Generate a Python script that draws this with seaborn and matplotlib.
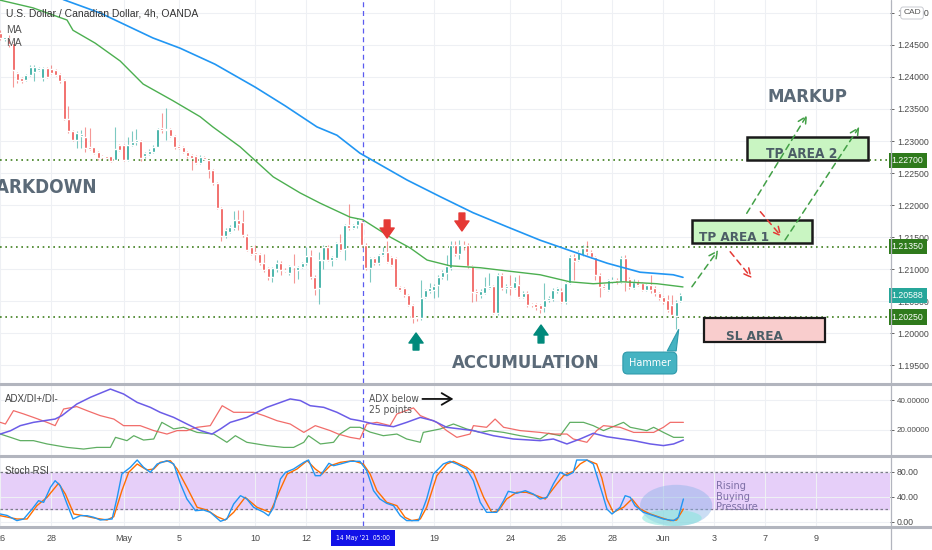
import os
import numpy as np
import matplotlib
matplotlib.use("Agg")
import matplotlib.pyplot as plt
from matplotlib import font_manager
from matplotlib.font_manager import FontProperties
from matplotlib.patches import Rectangle, Ellipse, Polygon
from matplotlib.lines import Line2D
import seaborn as sns

# ---- candles (USD/CAD 4h), one entry per bar ----
opens = [1.2469, 1.2459, 1.2461, 1.2453, 1.2406, 1.2398, 1.2395, 1.2403, 1.2408, 1.2411,
         1.2398, 1.2414, 1.2412, 1.2411, 1.2404, 1.2395, 1.2335, 1.2315, 1.2302, 1.2308,
         1.2307, 1.2290, 1.2290, 1.2283, 1.2277, 1.2276, 1.2276, 1.2271, 1.2294, 1.2294,
         1.2270, 1.2294, 1.2299, 1.2300, 1.2276, 1.2280, 1.2283, 1.2291, 1.2320, 1.2317,
         1.2319, 1.2308, 1.2292, 1.2290, 1.2283, 1.2278, 1.2276, 1.2266, 1.2275, 1.2270,
         1.2255, 1.2234, 1.2195, 1.2151, 1.2158, 1.2164, 1.2177, 1.2174, 1.2152, 1.2134,
         1.2126, 1.2123, 1.2109, 1.2101, 1.2088, 1.2100, 1.2109, 1.2099, 1.2093, 1.2105,
         1.2098, 1.2103, 1.2109, 1.2121, 1.2088, 1.2070, 1.2114, 1.2135, 1.2114, 1.2117,
         1.2140, 1.2131, 1.2169, 1.2164, 1.2168, 1.2174, 1.2138, 1.2101, 1.2117, 1.2109,
         1.2122, 1.2127, 1.2119, 1.2117, 1.2072, 1.2070, 1.2059, 1.2044, 1.2025, 1.2023,
         1.2057, 1.2065, 1.2067, 1.2075, 1.2087, 1.2094, 1.2101, 1.2138, 1.2124, 1.2138,
         1.2137, 1.2104, 1.2066, 1.2060, 1.2063, 1.2070, 1.2073, 1.2031, 1.2091, 1.2070,
         1.2073, 1.2070, 1.2075, 1.2057, 1.2063, 1.2045, 1.2045, 1.2043, 1.2041, 1.2051,
         1.2053, 1.2066, 1.2065, 1.2049, 1.2078, 1.2119, 1.2114, 1.2122, 1.2133, 1.2127,
         1.2119, 1.2091, 1.2073, 1.2067, 1.2081, 1.2083, 1.2080, 1.2117, 1.2085, 1.2070,
         1.2080, 1.2078, 1.2067, 1.2075, 1.2071, 1.2062, 1.2056, 1.2051, 1.2044, 1.2026,
         1.2050]
highs = [1.2473, 1.2463, 1.2466, 1.2455, 1.2408, 1.2400, 1.2405, 1.2418, 1.2419, 1.2416,
         1.2416, 1.2416, 1.2419, 1.2413, 1.2406, 1.2397, 1.2354, 1.2317, 1.2315, 1.2317,
         1.2322, 1.2320, 1.2291, 1.2285, 1.2278, 1.2277, 1.2277, 1.2322, 1.2296, 1.2296,
         1.2307, 1.2315, 1.2318, 1.2302, 1.2283, 1.2287, 1.2293, 1.2320, 1.2343, 1.2351,
         1.2321, 1.2310, 1.2294, 1.2292, 1.2285, 1.2280, 1.2278, 1.2278, 1.2277, 1.2272,
         1.2257, 1.2236, 1.2197, 1.2164, 1.2168, 1.2190, 1.2192, 1.2192, 1.2154, 1.2136,
         1.2137, 1.2125, 1.2124, 1.2103, 1.2103, 1.2114, 1.2112, 1.2101, 1.2107, 1.2124,
         1.2105, 1.2111, 1.2135, 1.2130, 1.2090, 1.2127, 1.2137, 1.2137, 1.2121, 1.2142,
         1.2155, 1.2171, 1.2202, 1.2170, 1.2180, 1.2177, 1.2140, 1.2119, 1.2119, 1.2124,
         1.2135, 1.2143, 1.2121, 1.2119, 1.2074, 1.2072, 1.2061, 1.2046, 1.2027, 1.2083,
         1.2069, 1.2078, 1.2076, 1.2090, 1.2098, 1.2122, 1.2143, 1.2143, 1.2145, 1.2144,
         1.2140, 1.2106, 1.2068, 1.2068, 1.2088, 1.2093, 1.2075, 1.2093, 1.2093, 1.2076,
         1.2090, 1.2088, 1.2090, 1.2065, 1.2065, 1.2047, 1.2047, 1.2045, 1.2078, 1.2058,
         1.2070, 1.2072, 1.2070, 1.2080, 1.2122, 1.2124, 1.2130, 1.2138, 1.2143, 1.2129,
         1.2121, 1.2093, 1.2076, 1.2085, 1.2088, 1.2086, 1.2121, 1.2122, 1.2087, 1.2084,
         1.2083, 1.2080, 1.2077, 1.2091, 1.2073, 1.2064, 1.2058, 1.2059, 1.2059, 1.2051,
         1.2062]
lows = [1.2458, 1.2457, 1.2447, 1.2385, 1.2390, 1.2390, 1.2393, 1.2401, 1.2393, 1.2409,
        1.2393, 1.2398, 1.2404, 1.2401, 1.2391, 1.2333, 1.2312, 1.2300, 1.2289, 1.2289,
        1.2283, 1.2286, 1.2280, 1.2271, 1.2272, 1.2271, 1.2267, 1.2270, 1.2284, 1.2268,
        1.2268, 1.2292, 1.2294, 1.2268, 1.2274, 1.2278, 1.2281, 1.2290, 1.2312, 1.2302,
        1.2306, 1.2288, 1.2287, 1.2281, 1.2273, 1.2254, 1.2264, 1.2264, 1.2270, 1.2242,
        1.2232, 1.2193, 1.2143, 1.2148, 1.2156, 1.2161, 1.2161, 1.2150, 1.2128, 1.2122,
        1.2114, 1.2107, 1.2096, 1.2083, 1.2080, 1.2096, 1.2091, 1.2095, 1.2091, 1.2078,
        1.2085, 1.2101, 1.2107, 1.2085, 1.2059, 1.2046, 1.2100, 1.2112, 1.2104, 1.2115,
        1.2128, 1.2114, 1.2161, 1.2162, 1.2164, 1.2134, 1.2098, 1.2080, 1.2107, 1.2107,
        1.2120, 1.2109, 1.2104, 1.2070, 1.2065, 1.2057, 1.2042, 1.2015, 1.2018, 1.2020,
        1.2055, 1.2063, 1.2054, 1.2057, 1.2085, 1.2083, 1.2099, 1.2120, 1.2115, 1.2130,
        1.2102, 1.2049, 1.2050, 1.2055, 1.2061, 1.2068, 1.2029, 1.2028, 1.2067, 1.2063,
        1.2060, 1.2068, 1.2055, 1.2055, 1.2040, 1.2040, 1.2036, 1.2031, 1.2033, 1.2048,
        1.2050, 1.2063, 1.2047, 1.2045, 1.2076, 1.2083, 1.2112, 1.2120, 1.2122, 1.2117,
        1.2083, 1.2057, 1.2068, 1.2065, 1.2078, 1.2076, 1.2078, 1.2065, 1.2068, 1.2068,
        1.2073, 1.2065, 1.2065, 1.2062, 1.2058, 1.2052, 1.2046, 1.2033, 1.2025, 1.2007,
        1.2048]
closes = [1.2461, 1.2462, 1.2451, 1.2411, 1.2395, 1.2393, 1.2403, 1.2416, 1.2415, 1.2414,
          1.2414, 1.2400, 1.2406, 1.2403, 1.2393, 1.2335, 1.2315, 1.2302, 1.2312, 1.2311,
          1.2289, 1.2288, 1.2282, 1.2273, 1.2275, 1.2273, 1.2269, 1.2287, 1.2286, 1.2270,
          1.2294, 1.2299, 1.2302, 1.2273, 1.2281, 1.2285, 1.2291, 1.2318, 1.2317, 1.2319,
          1.2308, 1.2290, 1.2289, 1.2283, 1.2277, 1.2273, 1.2266, 1.2275, 1.2272, 1.2255,
          1.2234, 1.2195, 1.2151, 1.2161, 1.2166, 1.2177, 1.2171, 1.2153, 1.2130, 1.2124,
          1.2123, 1.2109, 1.2099, 1.2087, 1.2101, 1.2110, 1.2099, 1.2097, 1.2105, 1.2103,
          1.2103, 1.2109, 1.2120, 1.2088, 1.2068, 1.2114, 1.2135, 1.2114, 1.2119, 1.2140,
          1.2130, 1.2169, 1.2164, 1.2168, 1.2177, 1.2138, 1.2101, 1.2117, 1.2109, 1.2122,
          1.2127, 1.2111, 1.2106, 1.2072, 1.2067, 1.2059, 1.2044, 1.2023, 1.2023, 1.2054,
          1.2067, 1.2070, 1.2074, 1.2088, 1.2096, 1.2104, 1.2138, 1.2124, 1.2138, 1.2136,
          1.2104, 1.2064, 1.2062, 1.2066, 1.2072, 1.2073, 1.2031, 1.2091, 1.2070, 1.2073,
          1.2070, 1.2080, 1.2057, 1.2063, 1.2044, 1.2044, 1.2040, 1.2038, 1.2051, 1.2054,
          1.2067, 1.2070, 1.2049, 1.2078, 1.2119, 1.2112, 1.2127, 1.2133, 1.2127, 1.2119,
          1.2091, 1.2072, 1.2071, 1.2083, 1.2083, 1.2080, 1.2117, 1.2080, 1.2072, 1.2080,
          1.2075, 1.2067, 1.2075, 1.2067, 1.2062, 1.2054, 1.2049, 1.2036, 1.2028, 1.2049,
          1.2059]

# ---- moving averages (bar position, price) ----
ma_fast_bar = [0, 7.7, 15.7, 17.1, 22.3, 28.2, 33.6, 40.6, 47, 50, 56.4, 64.2, 70.5, 75.2,
               82.3, 85.3, 91.7, 96.4, 100.4, 105.8, 112.9, 119.2, 127, 134, 139.5, 146.5,
               154.5, 160.6]
ma_fast = [1.2520, 1.2508, 1.2489, 1.2473, 1.2453, 1.2425, 1.2389, 1.2363, 1.2338, 1.2322,
           1.2291, 1.2244, 1.2219, 1.2203, 1.2181, 1.2177, 1.2150, 1.2133, 1.2114, 1.2105,
           1.2102, 1.2097, 1.2091, 1.2080, 1.2077, 1.2080, 1.2077, 1.2072]
ma_slow_bar = [14.8, 23.5, 35.9, 42.3, 50.5, 60, 67, 74.5, 79.2, 84.6, 95.7, 103.5, 111.2,
               119.2, 127, 134.8, 142.8, 150.5, 158.3, 160.6]
ma_slow = [1.2521, 1.2500, 1.2461, 1.2445, 1.2420, 1.2384, 1.2355, 1.2322, 1.2309, 1.2281,
           1.2239, 1.2213, 1.2188, 1.2166, 1.2145, 1.2127, 1.2109, 1.2095, 1.2091, 1.2087]

# ---- ADX / DI+ / DI- ----
adx_bar = [0, 2.4, 4.7, 7.8, 12.9, 14.5, 18, 21.2, 25.9, 29, 32.2, 35.3, 37.6, 40.8, 43.9,
           47.1, 49.8, 51.8, 54.1, 58, 62.7, 68.2, 70.6, 72.9, 76.1, 79.2, 82.4, 84.6, 87.8,
           92.5, 95.6, 98.8, 101.9, 105, 111.3, 116, 120.7, 127, 130.1, 133.3, 136.4, 139.5,
           142.7, 149, 152.9, 156, 158.4, 160.7]
adx = [17.3, 19.5, 22.9, 25.1, 27.3, 29.6, 37.3, 41.8, 47.3, 44, 38.4, 35.1, 31.8, 28.4, 24,
       19.6, 17.3, 20.7, 25.1, 28.4, 35.1, 40.7, 39.6, 36.2, 35.1, 31.8, 27.3, 26.2, 24,
       22.2, 25.1, 28.4, 26.2, 21.8, 19.6, 16.2, 14, 12.9, 14, 10.7, 14, 17.8,
       15.5, 12.9, 10.7, 9.6, 10.7, 13.3]
di_red_bar = [0, 1.2, 3.1, 5.5, 7.8, 11, 12.9, 14.9, 18, 20.4, 23.5, 26.7, 29, 32.9, 36.1,
              39.2, 41.6, 43.9, 46.3, 49.4, 52.2, 54.9, 59.6, 62, 65.1, 68.2, 71.4, 74.1,
              77.6, 79.5, 82.3, 84.6, 86.2, 88.6, 91.7, 93.3, 97.2, 98.8, 102.7, 105, 107.4,
              110.5, 111.3, 114.4, 116.4, 118.4, 122.3, 127, 130.1, 133.3, 134.8, 138, 140.3,
              141.9, 145.8, 149, 153.7, 156, 157.6, 160.7]
di_red = [25.1, 24, 32.9, 30.7, 28.4, 25.1, 22.9, 34, 35.6, 32.9, 29.6, 27.3, 22.9, 22.9, 19.6,
          17.3, 19.6, 19.6, 21.8, 22.9, 36.2, 31.8, 31.8, 29.6, 26.2, 24, 18.4, 22.9,
          19.6, 17.3, 15.1, 14, 24, 25.1, 22.9, 30.7, 34.7, 29.6, 25.1, 19.6, 15.1,
          17.3, 22.9, 21.8, 27.3, 21.8, 19.6, 18.4, 17.3, 17.3, 14, 11.8, 19.6,
          22.9, 21.8, 18.4, 18.4, 21.8, 25.1, 25.1]
di_green_bar = [0, 2.4, 4.7, 7.8, 11, 15.7, 19.6, 22.7, 25.9, 27.1, 29.8, 31.4, 33.7, 36.1,
                38, 40.8, 43.1, 46.3, 50.2, 53.3, 55.3, 58, 62.7, 66.7, 69, 71.4, 72.5, 75.3,
                78.4, 79.9, 82.3, 84.6, 87, 90.1, 93.3, 95.6, 98.8, 99.5, 103.5, 106.6, 109.7,
                112.9, 115.2, 118.4, 122.3, 127, 129, 131.7, 134, 137.2, 139.5, 141.9, 146.6,
                148.2, 152.1, 153.7, 156, 158.4, 160.7]
di_green = [17.3, 15.1, 12.9, 12.9, 10.7, 8.4, 7.3, 8.4, 8.4, 15.1, 12.9, 16.2, 13.3, 14,
            25.1, 20.7, 21.8, 18.4, 17.3, 11.8, 16.2, 11.8, 9.6, 8.4, 8.4, 11.8, 16.2, 10.7,
            11.8, 17.3, 21.8, 21.8, 18.6, 16.2, 17.3, 14, 11.8, 18.4, 20.7, 24, 20.7,
            18.4, 19.6, 18.4, 16.2, 14, 17.8, 16.2, 25.1, 25.1, 22.9, 19.6, 25.1,
            21.8, 19.6, 21.8, 18.4, 15.1, 15.1]

# ---- Stoch RSI ----
k_bar = [0, 1.6, 3.9, 5.5, 7.5, 9, 10.2, 11.8, 12.9, 14.1, 15.7, 17.1, 18.8, 20.4, 22, 23.5,
         26.3, 27.5, 28.6, 30.6, 32.2, 33.7, 35.3, 36.9, 39.2, 40.8, 42.4, 43.9, 45.9, 47.8,
         49.4, 51.8, 53.3, 54.9, 56.5, 58, 59.6, 62, 63.1, 64.3, 65.9, 67.1, 69, 71.4, 72.5,
         74.1, 75.3, 77.3, 78.4, 80, 82.3, 84.6, 86.2, 87.8, 89.3, 90.9, 92.5, 94.1, 95.6,
         98.4, 100.3, 101.9, 104.2, 105.8, 107.4, 109.7, 111.3, 112.9, 114.4, 116.8, 118.4,
         119.5, 121.5, 123.5, 125.4, 127, 128.6, 130.1, 131.7, 133.3, 134.8, 135.6, 138,
         139.5, 140.7, 141.9, 142.7, 143.9, 145.8, 147, 148.2, 149.3, 151.3, 153.7, 156,
         158.4, 159.5, 160.7]
k_line = [12.3, 10, 1.7, 4.3, 20.3, 33.6, 31, 55, 65.6, 57.6, 28.3, 4.3, 9.6, 9.6, 7, 2.7,
          4.3, 39, 76.3, 87, 98.7, 87, 79, 92.3, 97.6, 92.3, 60.3, 36.3, 17.6, 18.7,
          15, 0.6, 4.3, 28.3, 41.6, 36.3, 23, 15, 9.6, 23, 68.3, 79, 84.3, 95, 98.7,
          73.6, 73.6, 93.4, 89.6, 92.3, 96.6, 96.6, 81.6, 49.6, 36.3, 29.4, 25.6, 9.6, 1.7,
          1.7, 36.3, 76.3, 92.3, 96.6, 92.3, 84.3, 65.6, 31, 15, 15, 33.6,
          48.6, 45.4, 49.6, 44.3, 36.3, 39, 60.3, 79, 73.6, 79, 98.7, 98.7,
          92.3, 65.6, 39, 20.3, 12.3, 23, 41.6, 39, 25.6, 15, 9.6, 4.3,
          1.7, 7, 36.3]
d_bar = [0, 3.9, 6.3, 8.6, 11, 13.7, 15.3, 17.3, 19.6, 22, 25.1, 26.7, 28.6, 30.2, 32.2,
         34.5, 36.1, 37.6, 40, 41.6, 43.9, 46.3, 48.6, 51, 52.9, 54.9, 57.6, 60.4, 63.5,
         65.9, 67.5, 69.8, 72.2, 74.1, 75.7, 77.6, 80, 83, 85.4, 87, 88.6, 90.9, 93.3, 95.2,
         96.8, 98.8, 100.3, 102.7, 105, 106.6, 109.7, 111.3, 113.7, 115.6, 117.2, 119.1,
         121.5, 123.8, 126.2, 128.2, 130.9, 132.5, 134.8, 136.4, 138, 140.3, 141.5, 142.7,
         144.2, 146.6, 148.6, 150.5, 152.9, 155.2, 157.6, 159.1, 160.7]
d_line = [9.6, 4.3, 4.3, 25.6, 39, 61.4, 44.3, 12.3, 9.6, 6, 2.7, 8, 49.6, 79, 92.3,
          82.7, 84.3, 95, 97.6, 84.3, 55, 23, 18.7, 8, 2.7, 15, 39, 23, 15,
          52.3, 76.3, 84.3, 97.6, 84.3, 76.3, 89.6, 95, 97.6, 92.3, 76.3, 49.6, 31, 25.6, 7,
          1.7, 4.3, 23, 73.6, 92.3, 96.6, 87, 79, 39, 15, 17.6, 36.3,
          47, 47, 41.6, 36.3, 60.3, 73.6, 80.6, 92.3, 98.7, 92.3, 70, 36.3,
          15, 23, 36.3, 20.3, 12.3, 7, 1.7, 2.7, 20.3]

# ---- axis labels ----
date_bar = [0, 12, 29, 42, 60, 72, 102, 120, 132, 144, 156, 168, 180, 192]
date_lbl = ['26', '28', 'May', '5', '10', '12', '19', '24', '26', '28', 'Jun', '3', '7', '9']
levels = [1.2270, 1.2135, 1.2025]
last_price = 1.20588

W, H = 932, 550
UP, DOWN = '#26a69a', '#ef5350'
TXT = '#5b6a78'

sns.set_theme(style="white")
plt.rcParams['font.family'] = ['Liberation Sans', 'DejaVu Sans']


def find_font(bold):
    # prefer a narrow / condensed face for the drawn labels, like the original
    want = ['LiberationSansNarrow-Bold.ttf', 'DejaVuSansCondensed-Bold.ttf',
            'RobotoCondensed-Bold.ttf'] if bold else \
        ['LiberationSansNarrow-Regular.ttf', 'DejaVuSansCondensed.ttf',
         'RobotoCondensed-Regular.ttf']
    files = {os.path.basename(f.fname): f.fname for f in font_manager.fontManager.ttflist}
    for w in want:
        if w in files:
            return FontProperties(fname=files[w])
    for name, path in files.items():
        low = name.lower()
        if ('narrow' in low or 'condensed' in low) and (('bold' in low) == bold):
            return FontProperties(fname=path)
    return FontProperties(family='Liberation Sans', weight='bold' if bold else 'normal')


FB = find_font(True)
FR = find_font(False)

fig = plt.figure(figsize=(W / 100, H / 100), dpi=100)
fig.patch.set_facecolor('white')
renderer = fig.canvas.get_renderer()


def fit(t, width_px):
    w = t.get_window_extent(renderer).width
    t.set_fontsize(t.get_fontsize() * width_px / w)
    return t


def px_axes(x0, y0, x1, y1):
    return fig.add_axes([x0 / W, 1 - y1 / H, (x1 - x0) / W, (y1 - y0) / H])


ax = px_axes(0, 0, 890, 383)
ax_adx = px_axes(0, 384, 890, 455)
ax_st = px_axes(0, 456, 890, 526)

XL = (-0.07, 209.3)
for a in (ax, ax_adx, ax_st):
    a.set_xlim(*XL)
    for s in a.spines.values():
        s.set_visible(False)
    a.set_xticks(date_bar)
    a.grid(True, color='#eef0f4', lw=0.8)
    a.set_axisbelow(True)
    a.yaxis.tick_right()
    a.tick_params(axis='y', labelsize=6.3, colors='#4a4a4a', length=3, pad=2, width=0.6)
    a.axvline(85.3, color='#5b5bf0', lw=0.9, ls=(0, (4, 3)), zorder=1)

# ---- main price panel ----
ax.set_ylim(1.19219, 1.25203)
ticks = np.arange(1.195, 1.2501, 0.005)
ax.set_yticks(ticks)
ax.set_yticklabels([f'{v:.5f}' for v in ticks])
ax.tick_params(axis='x', labelbottom=False, length=0)

bars = np.arange(len(closes))
o, hi, lo, c = map(np.array, (opens, highs, lows, closes))
col = np.where(c >= o, UP, DOWN)
ax.vlines(bars, lo, hi, colors=col, lw=0.8, alpha=0.6, zorder=2)
ax.bar(bars, np.maximum(np.abs(c - o), 0.00005), bottom=np.minimum(o, c), width=0.7,
       color=col, zorder=3)

sns.lineplot(x=ma_fast_bar, y=ma_fast, ax=ax, color='#4caf50', lw=1.0, zorder=4)
sns.lineplot(x=ma_slow_bar, y=ma_slow, ax=ax, color='#2196f3', lw=1.2, zorder=4)

for lv in levels:
    ax.axhline(lv, color='#3f7f1f', lw=1.2, ls=(0, (1, 2.2)), zorder=2)
    ax.text(1.002, lv, f'{lv:.5f}', transform=ax.get_yaxis_transform(), ha='left',
            va='center', fontsize=6.3, color='white', zorder=6,
            bbox=dict(boxstyle='square,pad=0.35', fc='#2f7a1c', ec='none'))
ax.text(1.002, last_price, f'{last_price:.5f}', transform=ax.get_yaxis_transform(),
        ha='left', va='center', fontsize=6.3, color='white', zorder=6,
        bbox=dict(boxstyle='square,pad=0.35', fc='#26a69a', ec='none'))

# zones
ax.add_patch(Rectangle((162.8, 1.21406), 28.2, 0.0036, fc='#c9f5c2', ec='#1a1a1a', lw=1.8, zorder=5))
ax.add_patch(Rectangle((175.7, 1.22703), 28.5, 0.0036, fc='#c9f5c2', ec='#1a1a1a', lw=1.8, zorder=5))
ax.add_patch(Rectangle((165.6, 1.19859), 28.4, 0.00375, fc='#f9cdcd', ec='#1a1a1a', lw=1.6, zorder=5))
fit(ax.text(164.4, 1.21445, 'TP AREA 1', fontproperties=FB, color='#4b5d66',
            va='baseline', ha='left', zorder=6), 70)
fit(ax.text(188.5, 1.22740, 'TP AREA 2', fontproperties=FB, color='#4b5d66',
            va='baseline', ha='center', zorder=6), 71)
fit(ax.text(177.5, 1.19885, 'SL AREA', fontproperties=FB, color='#4b5d66',
            va='baseline', ha='center', zorder=6), 57)

# phase labels
fit(ax.text(-5.0, 1.22188, 'MARKDOWN', fontproperties=FB, color=TXT,
            va='baseline', ha='left', zorder=6), 118)
fit(ax.text(123.7, 1.19453, 'ACCUMULATION', fontproperties=FB, color=TXT,
            va='baseline', ha='center', zorder=6), 148)
fit(ax.text(189.8, 1.23609, 'MARKUP', fontproperties=FB, color=TXT,
            va='baseline', ha='center', zorder=6), 80)

# swing arrows
for tail, tip, cc in [((91.0, 1.21766), (91.0, 1.21484), '#e53935'),
                      ((108.6, 1.21875), (108.6, 1.21594), '#e53935'),
                      ((97.8, 1.19734), (97.8, 1.2000), '#00897b'),
                      ((127.2, 1.19844), (127.2, 1.20125), '#00897b')]:
    ax.annotate('', xy=tip, xytext=tail, zorder=6,
                arrowprops=dict(arrowstyle='simple,head_width=0.85,head_length=0.6,tail_width=0.35',
                                color=cc, shrinkA=0, shrinkB=0, mutation_scale=12))

# projected paths
for start, end, cc in [((162.7, 1.20723), (168.9, 1.21297), '#43a047'),
                       ((171.7, 1.21270), (176.8, 1.20855), '#e53935'),
                       ((175.6, 1.21870), (189.8, 1.23406), '#43a047'),
                       ((178.8, 1.21895), (183.8, 1.21505), '#e53935'),
                       ((184.6, 1.21453), (202.1, 1.23223), '#43a047')]:
    ax.annotate('', xy=end, xytext=start, zorder=6,
                arrowprops=dict(arrowstyle='->,head_length=0.5,head_width=0.25', color=cc,
                                lw=1.1, ls=(0, (4, 3)), shrinkA=0, shrinkB=0))

# hammer callout
ax.add_patch(Polygon([(156.9, 1.19720), (159.0, 1.19720), (159.6, 1.20059)], closed=True,
                     fc='#45b3c2', ec='#2d9aab', lw=0.8, zorder=6))
ham = ax.text(152.8, 1.19531, 'Hammer', fontproperties=FR, color='white', ha='center',
              va='center', zorder=7)
fit(ham, 42)
ham.set_bbox(dict(boxstyle='round,pad=0.55,rounding_size=0.45', fc='#45b3c2', ec='#2d9aab', lw=0.8))

# ---- ADX panel ----
ax_adx.set_ylim(3.33, 50.67)
ax_adx.set_yticks([20, 40])
ax_adx.set_yticklabels(['20.00000', '40.00000'])
ax_adx.tick_params(axis='x', labelbottom=False, length=0)
ax_adx.tick_params(axis='y', labelsize=5.8)
sns.lineplot(x=di_green_bar, y=di_green, ax=ax_adx, color='#43a047', lw=0.9, alpha=0.85)
sns.lineplot(x=di_red_bar, y=di_red, ax=ax_adx, color='#ef5350', lw=0.9, alpha=0.85)
sns.lineplot(x=adx_bar, y=adx, ax=ax_adx, color='#6b5ce7', lw=1.1)
ax_adx.text(0.006, 0.79, 'ADX/DI+/DI-', transform=ax_adx.transAxes, fontsize=7, color='#444',
            va='center')
fit(ax_adx.text(86.8, 37.0, 'ADX below\n25 points', fontproperties=FR, color='#555',
                va='center', ha='left', linespacing=1.15), 50)
ax_adx.annotate('', xy=(106.6, 40.7), xytext=(99.3, 40.7),
                arrowprops=dict(arrowstyle='->,head_length=0.6,head_width=0.35', color='#111',
                                lw=1.3, shrinkA=0, shrinkB=0))

# ---- Stoch RSI panel ----
ax_st.set_ylim(-6.9, 105.1)
ax_st.set_yticks([0, 40, 80])
ax_st.set_yticklabels(['0.00', '40.00', '80.00'])
ax_st.axhspan(20, 80, color='#e6cff9', zorder=0.5)
for lv in (20, 80):
    ax_st.axhline(lv, color='#7b7e88', lw=0.9, ls=(0, (2, 2)), zorder=1)
ax_st.add_patch(Ellipse((159.0, 26), 17, 66, fc='#8db4e8', ec='none', alpha=0.45, zorder=1))
ax_st.add_patch(Ellipse((158.0, 6), 14, 26, fc='#86e6dc', ec='none', alpha=0.55, zorder=1))
sns.lineplot(x=d_bar, y=d_line, ax=ax_st, color='#ff6d00', lw=1.0, zorder=3)
sns.lineplot(x=k_bar, y=k_line, ax=ax_st, color='#2196f3', lw=1.0, zorder=3)
ax_st.text(0.006, 0.79, 'Stoch RSI', transform=ax_st.transAxes, fontsize=7, color='#444',
           va='center')
fit(ax_st.text(168.4, 40, 'Rising\nBuying\nPressure', fontproperties=FR, color='#7d6fa6',
               va='center', ha='left', linespacing=1.05), 42)
ax_st.set_xticklabels(date_lbl)
ax_st.tick_params(axis='x', labelsize=6.5, colors='#4a4a4a', length=3, pad=3, width=0.6)
may14 = ax_st.text(85.3, -0.17, "14 May '21  05:00", transform=ax_st.get_xaxis_transform(),
                   ha='center', va='center', fontproperties=FR, color='white', zorder=8)
fit(may14, 54)
may14.set_bbox(dict(boxstyle='square,pad=0.75', fc='#1212e8', ec='none'))

for a in (ax, ax_adx, ax_st):
    a.set_xlabel('')
    a.set_ylabel('')

# header texts
fig.text(6 / W, 1 - 14 / H, 'U.S. Dollar / Canadian Dollar, 4h, OANDA', fontsize=7.5,
         color='#333', va='center')
fig.text(6 / W, 1 - 30 / H, 'MA', fontsize=7.5, color='#555', va='center')
fig.text(6 / W, 1 - 43 / H, 'MA', fontsize=7.5, color='#555', va='center')
fig.text(912 / W, 1 - 13 / H, 'CAD', fontsize=6, color='#555', va='center', ha='center',
         bbox=dict(boxstyle='round,pad=0.3', fc='white', ec='#c8cad0', lw=0.7))

# panel separators and price scale border
for y in (383.5, 455.5, 526.5):
    fig.add_artist(Line2D([0, 1], [1 - y / H, 1 - y / H], color='#b2b5be', lw=2.2))
fig.add_artist(Line2D([890.5 / W, 890.5 / W], [0, 1], color='#b2b5be', lw=0.9))

fig.savefig('out.png', dpi=100, facecolor='white')
